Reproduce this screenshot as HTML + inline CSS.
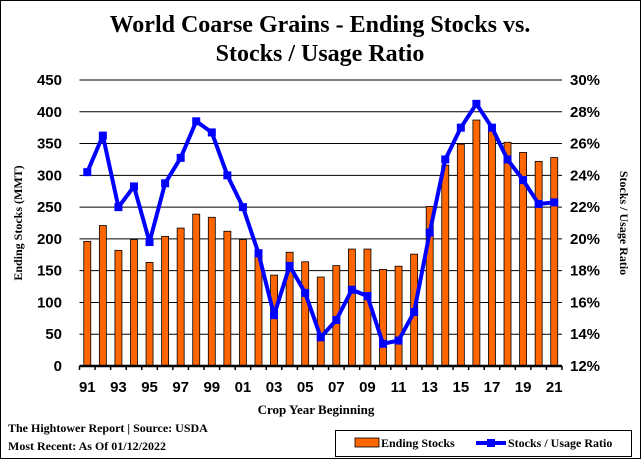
<!DOCTYPE html>
<html><head><meta charset="utf-8"><style>
body{margin:0;background:#fff;}
svg{display:block;font-family:"Liberation Serif",serif;font-weight:bold;}
</style></head><body>
<svg id="c" width="641" height="459" viewBox="0 0 641 459">
<rect x="0.5" y="0.5" width="640" height="458" fill="#fff" stroke="#000"/>
<text x="320" y="32" text-anchor="middle" font-size="24">World Coarse Grains - Ending Stocks vs.</text>
<text x="320" y="61" text-anchor="middle" font-size="24">Stocks / Usage Ratio</text>
<g id="grid"></g><g id="bars"></g><g id="line"></g><g id="axes"></g>
<text transform="translate(22,223) rotate(-90)" text-anchor="middle" font-size="12">Ending Stocks (MMT)</text>
<text transform="translate(620,223) rotate(90)" text-anchor="middle" font-size="12">Stocks / Usage Ratio</text>
<text x="316" y="414" text-anchor="middle" font-size="13">Crop Year Beginning</text>
<text x="8" y="432" font-size="12">The Hightower Report | Source: USDA</text>
<text x="8" y="450" font-size="12">Most Recent: As Of 01/12/2022</text>
<g>
<rect x="335.5" y="430.5" width="296" height="26" fill="#fff" stroke="#000"/>
<rect x="355" y="438" width="24" height="9" fill="#ff6600" stroke="#000" stroke-width="0.8"/>
<text x="381" y="447" font-size="12">Ending Stocks</text>
<line x1="476" y1="443" x2="506" y2="443" stroke="#0000ff" stroke-width="4"/>
<rect x="487" y="439" width="8" height="8" fill="#0000ff"/>
<text x="508" y="447" font-size="12">Stocks / Usage Ratio</text>
</g>
</svg>
<script>
const years=["91","92","93","94","95","96","97","98","99","00","01","02","03","04","05","06","07","08","09","10","11","12","13","14","15","16","17","18","19","20","21"];
const endingStocks=[196,221,182,199,163,204,217,239,234,212,199,177,143,179,164,140,158,184,184,152,157,176,251,316,349,387,372,352,336,322,328];
const ratioPct=[24.2,26.5,22.0,23.3,19.8,23.5,25.1,27.4,26.7,24.0,22.0,19.1,15.2,18.3,16.6,13.8,14.9,16.8,16.4,13.4,13.6,15.4,20.4,25.0,27.0,28.5,27.0,25.0,23.7,22.2,22.3];
const leftTicks=[0,50,100,150,200,250,300,350,400,450];
const rightTicks=[12,14,16,18,20,22,24,26,28,30];
const NS="http://www.w3.org/2000/svg";
const X0=79.5,X1=562,Y0=366,Y1=80;
const step=(X1-X0)/years.length;
const xC=i=>X0+step*(i+0.5);
const yL=v=>Y0-(v/450)*(Y0-Y1);
const yR=v=>Y0-((v-12)/18)*(Y0-Y1);
function mk(t,a,p){const e=document.createElementNS(NS,t);for(const k in a)e.setAttribute(k,a[k]);p.appendChild(e);return e;}
const grid=document.getElementById('grid'),axes=document.getElementById('axes');
leftTicks.forEach((v,i)=>{
  if(v>0){const g=mk('line',{x1:X0,x2:X1,y1:yL(v),y2:yL(v),stroke:'#000','stroke-width':1},grid);
  
  }
  const t=mk('text',{x:62,y:yL(v)+5,'text-anchor':'end','font-size':15,'font-family':'Liberation Sans, sans-serif'},axes);t.textContent=v;
  
  
});
rightTicks.forEach(v=>{
  const t=mk('text',{x:570,y:yR(v)+5,'font-size':15,'font-family':'Liberation Sans, sans-serif'},axes);t.textContent=v+'%';
  
  
});
const bars=document.getElementById('bars');
endingStocks.forEach((v,i)=>{
  const b=mk('rect',{x:xC(i)-3.5,y:yL(v),width:7,height:Y0-yL(v),fill:'#ff6600',stroke:'#000','stroke-width':0.8},bars);
  
  
});
const ax=mk('line',{x1:X0,x2:X1,y1:Y0,y2:Y0,stroke:'#000','stroke-width':2.5},axes);


years.forEach((y,i)=>{
  mk('line',{x1:X0+step*i,x2:X0+step*i,y1:Y0,y2:Y0+4,stroke:'#000','stroke-width':1.5},axes);
  if(i%2==0){const t=mk('text',{x:xC(i),y:392,'text-anchor':'middle','font-size':15,'font-family':'Liberation Sans, sans-serif'},axes);t.textContent=y;
  
  }
});
mk('line',{x1:X1,x2:X1,y1:Y0,y2:Y0+4,stroke:'#000','stroke-width':1.5},axes);
const line=document.getElementById('line');
const pl=mk('polyline',{points:ratioPct.map((v,i)=>xC(i)+','+yR(v)).join(' '),fill:'none',stroke:'#0000ff','stroke-width':4,'stroke-linejoin':'round'},line);


ratioPct.forEach((v,i)=>{
  const m=mk('rect',{x:xC(i)-4,y:yR(v)-4,width:8,height:8,fill:'#0000ff'},line);
  
  
});
</script>
</body></html>
